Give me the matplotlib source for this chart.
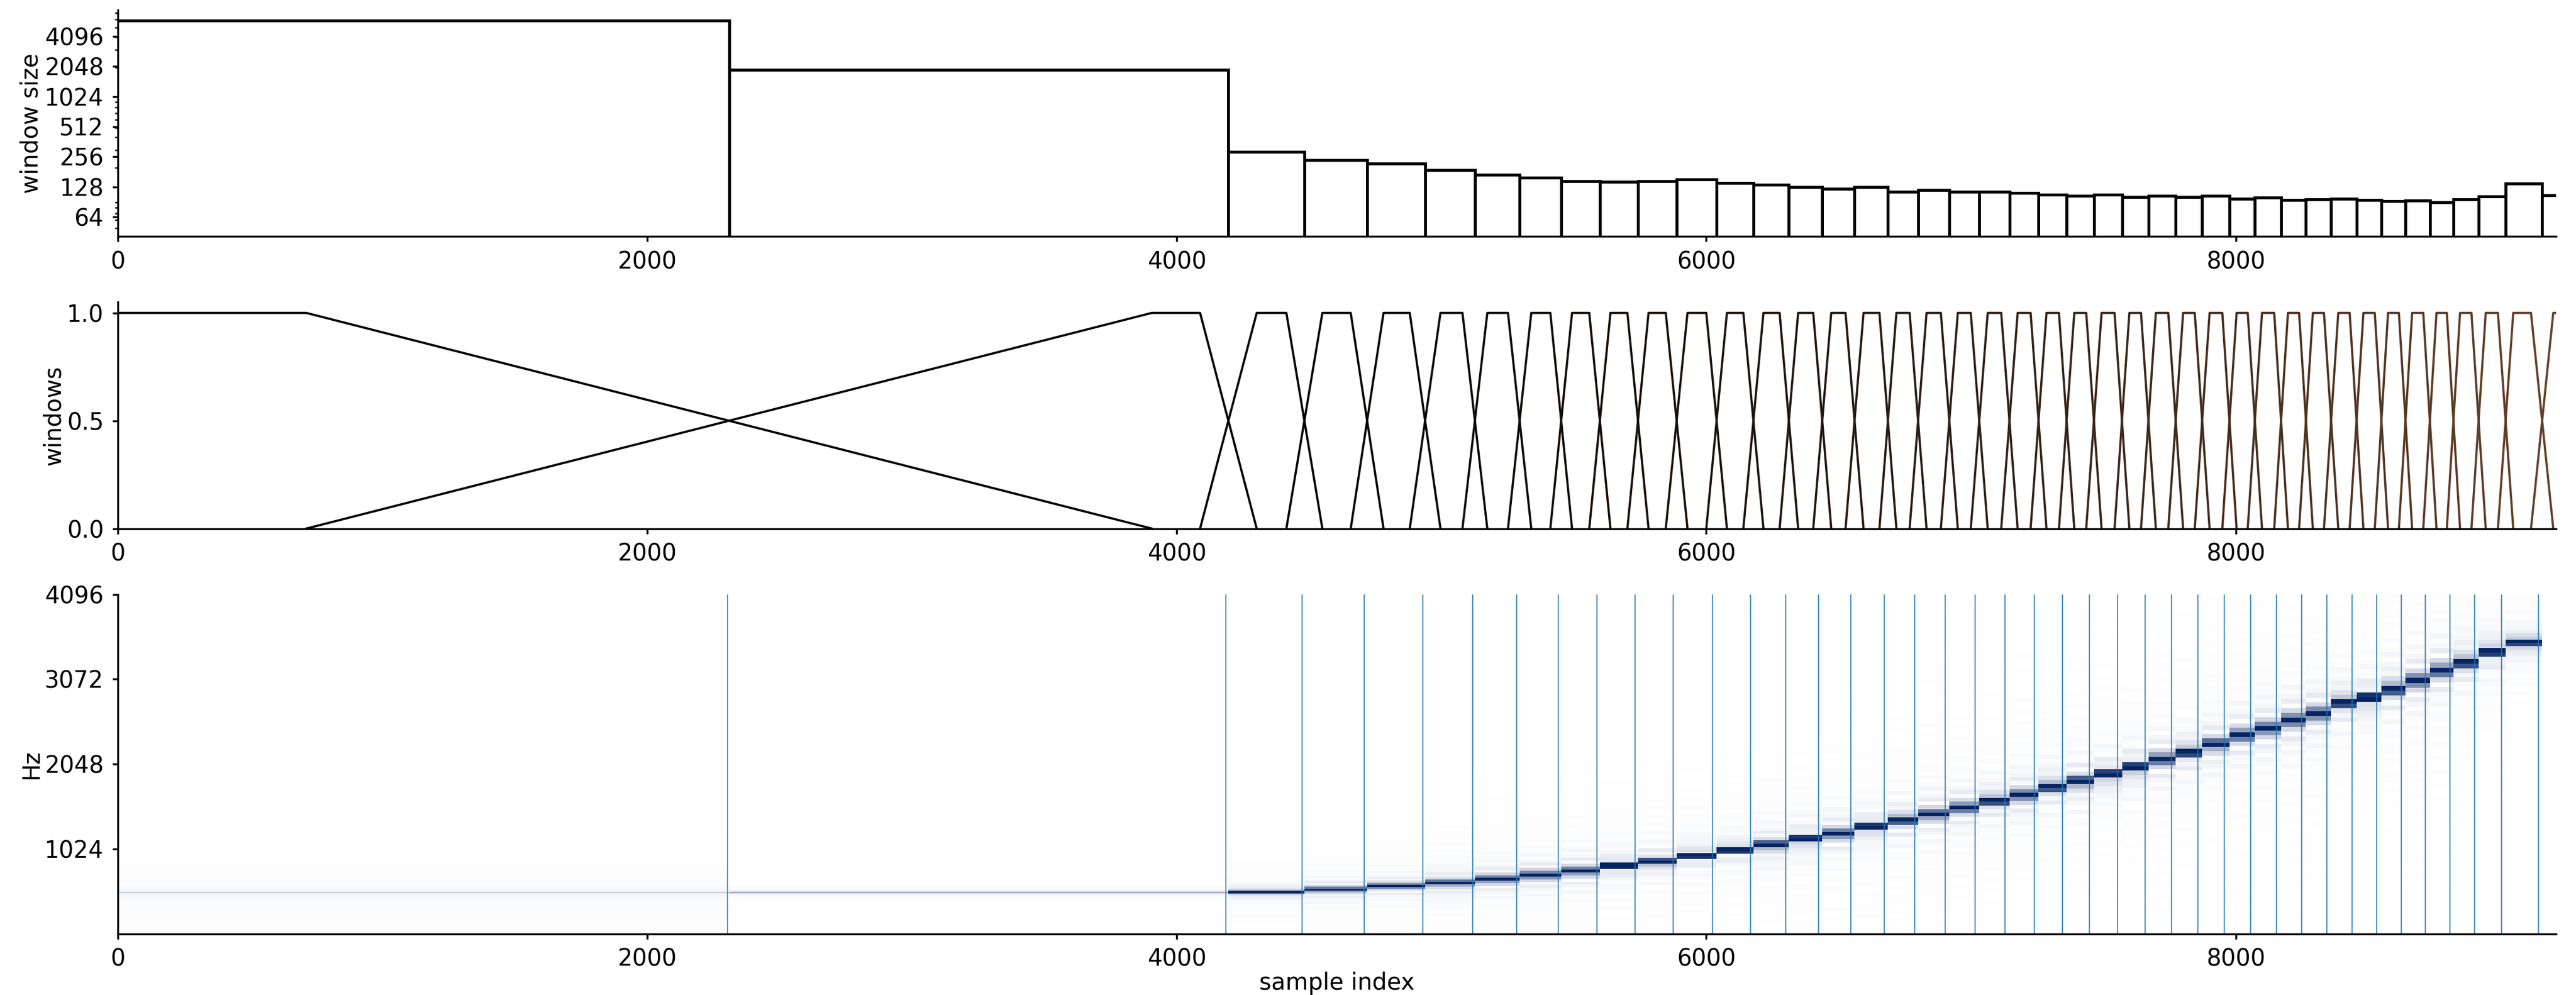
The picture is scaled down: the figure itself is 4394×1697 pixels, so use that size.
import numpy as np
import matplotlib
matplotlib.use("Agg")
import matplotlib.pyplot as plt
from matplotlib.colors import LinearSegmentedColormap
from matplotlib.ticker import NullFormatter

# analysis window sizes (samples), left to right
win_sizes = [5870, 1886, 287, 237, 219, 188, 169, 157, 146, 144,
             146, 151, 139, 134, 126, 122, 126, 114, 118, 113,
             114, 110, 106, 103, 106, 100, 103, 100, 103, 96,
             99, 94, 95, 96, 94, 91, 92, 89, 95, 102,
             138, 104]
first_start = -3561

# half length of the crossfade at each boundary between two windows
fades = [1597, 107, 68, 62, 58, 47, 44, 41, 40, 40,
         41, 39, 38, 35, 34, 34, 32, 32, 32, 32,
         31, 30, 29, 29, 28, 28, 28, 28, 27, 27,
         26, 26, 27, 26, 25, 25, 25, 25, 27, 29,
         42]
last_fade = 29

# detected onsets (samples)
onsets = [2303, 4185, 4474, 4707, 4929, 5117, 5283, 5441, 5587, 5732,
          5876, 6024, 6167, 6299, 6424, 6546, 6673, 6787, 6902, 7015,
          7128, 7238, 7345, 7447, 7553, 7657, 7757, 7856, 7956, 8057,
          8154, 8249, 8344, 8439, 8531, 8624, 8715, 8808, 8902, 9003,
          9143]

# dominant frequency in each analysed segment (Hz)
seg_freqs = [500, 500, 506, 538, 580, 619, 664, 712, 761, 823,
             877, 942, 1007, 1078, 1152, 1210, 1298, 1369, 1447, 1524,
             1605, 1677, 1773, 1845, 1929, 2016, 2107, 2187, 2291, 2398,
             2482, 2580, 2658, 2786, 2850, 2948, 3057, 3175, 3271, 3401,
             3514]

size_ticks = [64, 128, 256, 512, 1024, 2048, 4096]
hz_ticks = [1024, 2048, 3072, 4096]
sr = 8192
n_samples = 9210

plt.rcParams['font.size'] = 9.5
plt.rcParams['axes.linewidth'] = 0.8
plt.rcParams['axes.labelpad'] = 0.5

edges = first_start + np.concatenate([[0], np.cumsum(win_sizes)])
n_win = len(win_sizes)
fl_all = [0] + fades
fr_all = fades + [last_fade]

fig = plt.figure(figsize=(4394 / 300, 1697 / 300), dpi=300)
gs = fig.add_gridspec(3, 1, height_ratios=[2, 2, 3], left=0.0457, right=0.9923,
                      top=0.990, bottom=0.0613, hspace=0.2485)
ax1 = fig.add_subplot(gs[0])
ax2 = fig.add_subplot(gs[1])
ax3 = fig.add_subplot(gs[2])

#%% window sizes
ax1.set_yscale('log')
ax1.bar(edges[:-1], win_sizes, width=win_sizes, align='edge', bottom=1,
        facecolor='white', edgecolor='black', linewidth=1.2)
ax1.set_ylim(41, 7480)
ax1.set_yticks(size_ticks)
ax1.set_yticklabels([str(v) for v in size_ticks])
ax1.yaxis.set_minor_formatter(NullFormatter())
ax1.set_ylabel('window size')

#%% crossfaded windows
colors = plt.cm.copper(np.arange(n_win) / 128)
for k in range(n_win):
    fl, fr = fl_all[k], fr_all[k]
    xs = [edges[k] - fl, edges[k] + fl, edges[k + 1] - fr, edges[k + 1] + fr]
    ax2.plot(xs, [0, 1, 1, 0], color=colors[k], lw=0.9)
ax2.set_ylim(0, 1.05)
ax2.set_yticks([0.0, 0.5, 1.0])
ax2.set_ylabel('windows')

#%% spectrum of each segment
navy = LinearSegmentedColormap.from_list('navy', ['white', '#042463'])
for k in range(len(seg_freqs)):
    fl, fr = fl_all[k], fr_all[k]
    L = win_sizes[k] + fl + fr
    t = np.arange(L)
    up = np.ones(L) if fl == 0 else np.clip((t + 0.5) / (2 * fl), 0, 1)
    down = np.clip((L - t - 0.5) / (2 * fr), 0, 1)
    w = np.minimum(up, down)
    mag = np.abs(np.fft.rfft(w * np.sin(2 * np.pi * seg_freqs[k] * t / sr)))
    mag = (mag / mag.max()) ** 0.65
    f_edges = (np.arange(len(mag) + 1) - 0.5) * sr / L
    ax3.pcolormesh([edges[k], edges[k + 1]], f_edges, mag[:, None],
                   cmap=navy, vmin=0, vmax=1, shading='flat')
for x in onsets:
    ax3.axvline(x, color='C0', lw=0.5, alpha=0.8)
ax3.set_ylim(0, 4096)
ax3.set_yticks(hz_ticks)
ax3.set_ylabel('Hz')
ax3.set_xlabel('sample index', labelpad=0)

for ax in (ax1, ax2, ax3):
    ax.set_xlim(0, n_samples)
    ax.set_xticks([0, 2000, 4000, 6000, 8000])
    ax.spines['top'].set_visible(False)
    ax.spines['right'].set_visible(False)
    ax.tick_params(which='major', length=2.2, width=0.8)
    ax.tick_params(which='minor', length=1.2, width=0.6)

fig.savefig('out.png', dpi=300)
